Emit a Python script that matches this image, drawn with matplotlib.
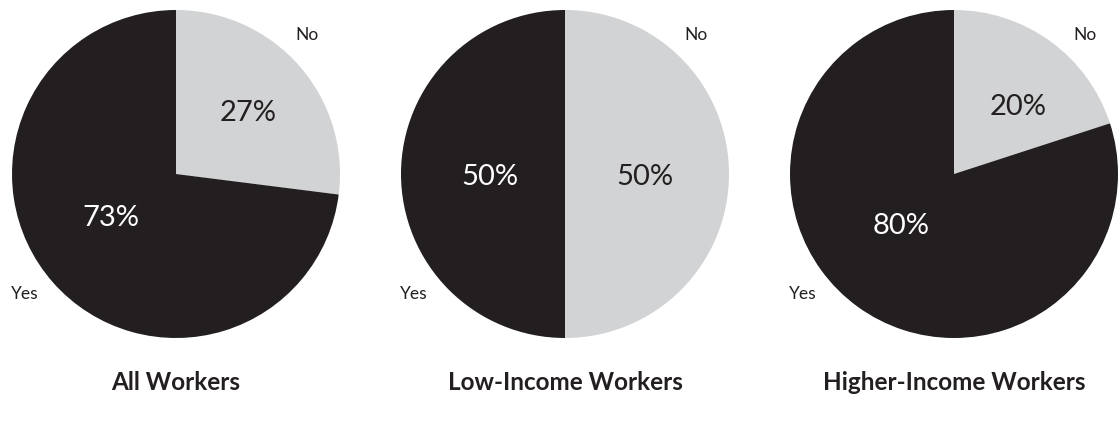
import matplotlib.pyplot as plt

# survey answers, share in percent (No first, drawn clockwise from 12 o'clock)
groups = ["All Workers", "Low-Income Workers", "Higher-Income Workers"]
answers = ["No", "Yes"]
no_share = [27, 50, 20]
yes_share = [73, 50, 80]

DARK = "#231f20"
LIGHT = "#d1d3d4"
plt.rcParams['font.family'] = ['Lato', 'DejaVu Sans']

W, H = 1120, 423
fig = plt.figure(figsize=(W / 100, H / 100), dpi=100)

R = 164          # pie radius in pixels
s = 1.3          # axes half-extent in pie radii
centers_x = [176, 565, 954]
center_y = 174
# where the percentage labels sit, in pie radii (No, Yes)
pct_pos = [[(0.44, 0.37), (-0.40, -0.27)],
           [(0.49, -0.02), (-0.46, -0.02)],
           [(0.39, 0.41), (-0.32, -0.32)]]

for i, name in enumerate(groups):
    cx = centers_x[i]
    ax = fig.add_axes([(cx - R * s) / W, (H - center_y - R * s) / H,
                       2 * R * s / W, 2 * R * s / H])
    vals = [no_share[i], yes_share[i]]
    wedges, _, pcts = ax.pie(vals, colors=[LIGHT, DARK], startangle=90,
                             counterclock=False, autopct='%d%%',
                             wedgeprops=dict(linewidth=0))
    pcts[0].set_color(DARK)
    pcts[1].set_color('white')
    for t, p in zip(pcts, pct_pos[i]):
        t.set_fontsize(21)
        t.set_position(p)
    ax.text(0.80, 0.85, answers[0], fontsize=12.5, color=DARK,
            ha='center', va='center')
    ax.text(-0.92, -0.73, answers[1], fontsize=12.5, color=DARK,
            ha='center', va='center')
    ax.set_xlim(-s, s)
    ax.set_ylim(-s, s)
    ax.set_aspect('equal')
    ax.axis('off')
    fig.text(cx / W, 1 - 382 / H, name, fontsize=17.5, fontweight='bold',
             color=DARK, ha='center', va='center')

fig.savefig("out.png", dpi=100)
